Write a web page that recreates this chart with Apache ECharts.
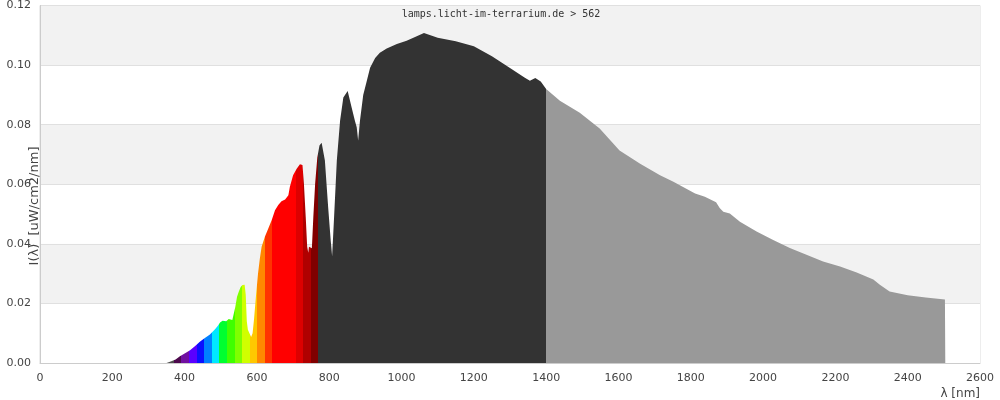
<!DOCTYPE html>
<html><head><meta charset="utf-8">
<script src="https://cdn.jsdelivr.net/npm/echarts@6/dist/echarts.min.js"></script>
<style>html,body{margin:0;padding:0;background:#fff}#c{width:1000px;height:400px}</style>
</head><body><div id="c"></div>
<script>
const titleText = 'lamps.licht-im-terrarium.de > 562';
const xName = 'λ [nm]';
const yName = 'I(λ)  [uW/cm2/nm]';
const xTicks = [0,200,400,600,800,1000,1200,1400,1600,1800,2000,2200,2400,2600];
const yTicks = [0,0.02,0.04,0.06,0.08,0.10,0.12];

const wavelength = [350,355,365,375,387,400,415,430,442,455,470,484,492,498,505,515,522,527,532,536,540,545,550,555,560,566,569,572,575,580,584,588,592,597,603,608,613,622,632,641,650,659,668,678,687,691,700,710,719,726,730,735,739,742,744,747,752,756,761,767,773,779,788,797,804,808,813,821,830,839,851,862,871,876,880,885,894,904,913,927,940,959,987,1014,1042,1062,1080,1100,1150,1200,1250,1300,1340,1355,1370,1385,1400,1438,1493,1548,1603,1660,1715,1752,1812,1839,1870,1880,1890,1908,1936,1982,2028,2074,2120,2166,2213,2259,2305,2323,2350,2400,2450,2503,2504];
const intensity = [0,0.0003,0.0007,0.0012,0.0023,0.0032,0.0043,0.0058,0.0071,0.0083,0.0096,0.0113,0.0125,0.0136,0.0142,0.0140,0.0148,0.0150,0.0144,0.0150,0.0187,0.0222,0.0240,0.0255,0.0262,0.0263,0.0230,0.0140,0.0112,0.0108,0.0087,0.0100,0.0147,0.0220,0.0300,0.0350,0.0390,0.0424,0.0453,0.0480,0.0513,0.0530,0.0543,0.0549,0.0563,0.0591,0.0630,0.0652,0.0667,0.0665,0.0602,0.0490,0.0390,0.0370,0.0390,0.0385,0.0385,0.0490,0.0602,0.0690,0.0730,0.0739,0.0680,0.0524,0.0413,0.0358,0.0480,0.0680,0.0813,0.0891,0.0913,0.0858,0.0813,0.0791,0.0747,0.0813,0.0900,0.0947,0.0991,0.1024,0.1041,0.1056,0.1071,0.1082,0.1097,0.1108,0.1100,0.1092,0.1080,0.1063,0.1030,0.0990,0.0958,0.0947,0.0957,0.0945,0.0920,0.0880,0.0840,0.0787,0.0713,0.0669,0.0630,0.0608,0.0569,0.0558,0.0540,0.0520,0.0508,0.0502,0.0474,0.0441,0.0413,0.0386,0.0363,0.0341,0.0324,0.0304,0.0280,0.0263,0.0240,0.0227,0.0220,0.0213,0];

// wavelength colour bands
const bandEdges = [0,370,391,412,433,454,475,496,517,538,559,580,601,622,643,708,728,749,768,1400,3000];
const bandColors = ['#505050','#4d0a4d','#7010a0','#5a00ff','#0a10ff','#0080ff','#00e8ff','#00ff30','#40ff00','#80ff00','#d0ff00','#ffc800','#ff8800','#ff3300','#ff0000','#dd0000','#b00000','#800000','#333333','#999999'];

const data = wavelength.map((w,i)=>[w,intensity[i]]);
const pieces = bandColors.map((c,i)=>({gte:bandEdges[i], lt:bandEdges[i+1], color:c}));

const chart = echarts.init(document.getElementById('c'), null, {renderer:'canvas'});
chart.setOption({
  animation:false,
  backgroundColor:'#fff',
  title:{text:titleText,left:496,textAlign:'center',top:4,textStyle:{fontFamily:'DejaVu Sans Mono',fontSize:10,fontWeight:'normal',color:'#333'}},
  grid:{left:40,right:20,top:4,bottom:36,show:true,borderColor:'#dcdcdc',borderWidth:1,backgroundColor:'transparent'},
  visualMap:{type:'piecewise',show:false,dimension:0,seriesIndex:0,pieces:pieces},
  xAxis:{type:'value',min:0,max:2600,interval:200,
    name:xName,nameLocation:'end',nameGap:0,
    nameTextStyle:{align:'right',verticalAlign:'top',padding:[25,0,0,0],fontFamily:'DejaVu Sans',fontSize:12,color:'#444'},
    axisLine:{lineStyle:{color:'#cccccc'}},axisTick:{show:false},
    axisLabel:{margin:10,fontFamily:'DejaVu Sans',fontSize:11,color:'#444',formatter:v=>xTicks.includes(v)?String(v):''},
    splitLine:{show:false}},
  yAxis:{type:'value',min:0,max:0.12,interval:0.02,
    axisLine:{show:true,lineStyle:{color:'#cccccc'}},axisTick:{show:false},
    axisLabel:{margin:9,fontFamily:'DejaVu Sans',fontSize:11,color:'#444',formatter:v=>{const t=yTicks.find(y=>Math.abs(y-v)<1e-9);return t===undefined?'':t.toFixed(2);}},
    splitLine:{show:true,lineStyle:{color:'#e0e0e0'}},
    splitArea:{show:true,areaStyle:{color:['#ffffff','#f2f2f2']}}},
  graphic:[{type:'text',x:35,y:206,rotation:Math.PI/2,style:{text:yName,align:'center',verticalAlign:'middle',font:'13px "DejaVu Sans"',fill:'#444'}}],
  series:[{type:'line',data:data,symbol:'none',smooth:false,
    lineStyle:{width:0},areaStyle:{opacity:1},z:2}]
});
</script></body></html>
